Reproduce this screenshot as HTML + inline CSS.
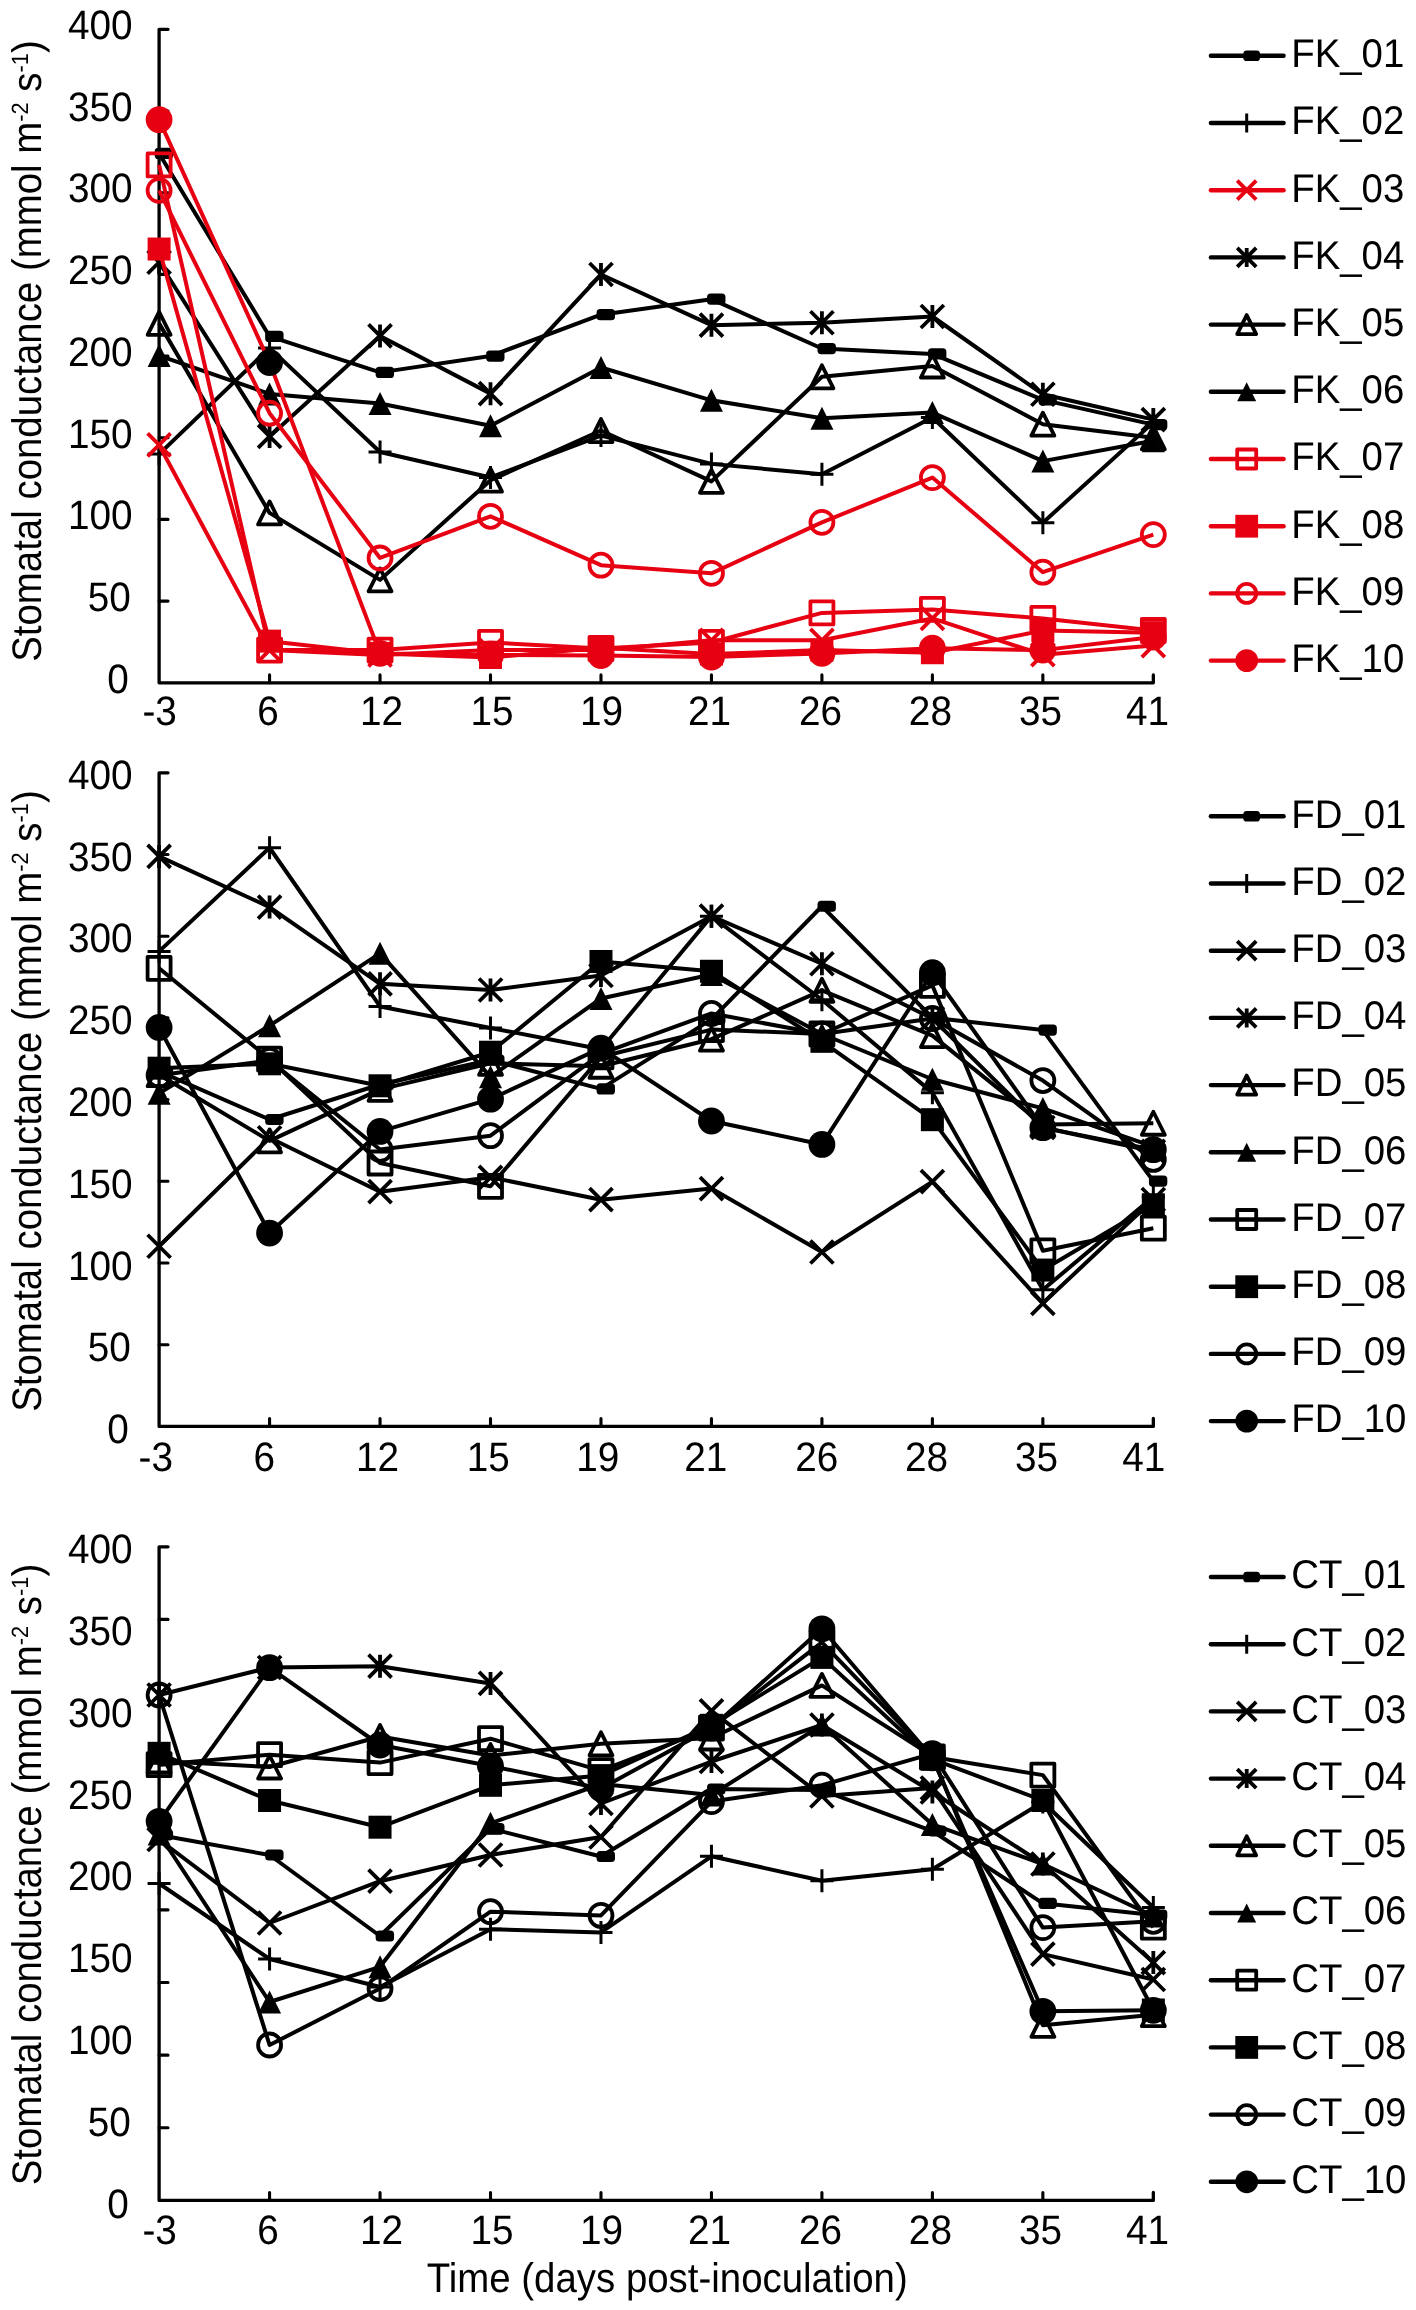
<!DOCTYPE html>
<html lang="en"><head><meta charset="utf-8"><title>Stomatal conductance</title>
<style>html,body{margin:0;padding:0;background:#fff}body{width:1416px;height:2310px;overflow:hidden;font-family:"Liberation Sans", sans-serif}svg{display:block;will-change:transform;filter:blur(0.55px)}</style></head>
<body>
<svg width="1416" height="2310" viewBox="0 0 1416 2310" font-family='"Liberation Sans", sans-serif' fill="#000" shape-rendering="geometricPrecision" text-rendering="geometricPrecision">
<rect width="1416" height="2310" fill="#fff"/>
<path d="M168 29.3H159.1V682.8H1153.33V674.9" stroke="#000" stroke-width="3.3" fill="none" stroke-linejoin="round" stroke-linecap="round"/>
<path d="M159.1 110.99H168M159.1 192.68H168M159.1 274.36H168M159.1 356.05H168M159.1 437.74H168M159.1 519.42H168M159.1 601.11H168M269.57 682.8V674.9M380.04 682.8V674.9M490.51 682.8V674.9M600.98 682.8V674.9M711.45 682.8V674.9M821.92 682.8V674.9M932.39 682.8V674.9M1042.86 682.8V674.9" stroke="#000" stroke-width="3.1" stroke-linecap="round" fill="none"/>
<text transform="translate(132.6 38.77) scale(0.94 1)" font-size="41.2" text-anchor="end">400</text>
<text transform="translate(132.6 120.55) scale(0.94 1)" font-size="41.2" text-anchor="end">350</text>
<text transform="translate(132.6 202.33) scale(0.94 1)" font-size="41.2" text-anchor="end">300</text>
<text transform="translate(132.6 284.11) scale(0.94 1)" font-size="41.2" text-anchor="end">250</text>
<text transform="translate(132.6 365.89) scale(0.94 1)" font-size="41.2" text-anchor="end">200</text>
<text transform="translate(132.6 447.67) scale(0.94 1)" font-size="41.2" text-anchor="end">150</text>
<text transform="translate(132.6 529.45) scale(0.94 1)" font-size="41.2" text-anchor="end">100</text>
<text transform="translate(130.8 611.23) scale(0.94 1)" font-size="41.2" text-anchor="end">50</text>
<text transform="translate(128.9 693.01) scale(0.94 1)" font-size="41.2" text-anchor="end">0</text>
<text transform="translate(159.6 725) scale(0.94 1)" font-size="41.2" text-anchor="middle">-3</text>
<text transform="translate(268.1 725) scale(0.94 1)" font-size="41.2" text-anchor="middle">6</text>
<text transform="translate(381.5 725) scale(0.94 1)" font-size="41.2" text-anchor="middle">12</text>
<text transform="translate(492.1 725) scale(0.94 1)" font-size="41.2" text-anchor="middle">15</text>
<text transform="translate(601.6 725) scale(0.94 1)" font-size="41.2" text-anchor="middle">19</text>
<text transform="translate(709.6 725) scale(0.94 1)" font-size="41.2" text-anchor="middle">21</text>
<text transform="translate(820.6 725) scale(0.94 1)" font-size="41.2" text-anchor="middle">26</text>
<text transform="translate(930.4 725) scale(0.94 1)" font-size="41.2" text-anchor="middle">28</text>
<text transform="translate(1040.5 725) scale(0.94 1)" font-size="41.2" text-anchor="middle">35</text>
<text transform="translate(1147.6 725) scale(0.94 1)" font-size="41.2" text-anchor="middle">41</text>
<text transform="translate(40.6 661.8) rotate(-90) scale(0.93 1)" font-size="41.3">Stomatal conductance (mmol m<tspan font-size="23.5" dy="-12.7">-2</tspan><tspan dy="12.7"> s</tspan><tspan font-size="23.5" dy="-12.7">-1</tspan><tspan dy="12.7">)</tspan></text>
<polyline points="159.1,153.46 269.57,336.44 380.04,372.39 490.51,356.05 600.98,314.72 711.45,299.2 821.92,348.53 932.39,353.93 1042.86,399.83 1153.33,424.67" stroke="#000000" stroke-width="4" stroke-linejoin="round" fill="none"/>
<rect x="154.7" y="147.86" width="18.4" height="11.2" rx="3.6" fill="#000000"/>
<rect x="265.17" y="330.84" width="18.4" height="11.2" rx="3.6" fill="#000000"/>
<rect x="375.64" y="366.79" width="18.4" height="11.2" rx="3.6" fill="#000000"/>
<rect x="486.11" y="350.45" width="18.4" height="11.2" rx="3.6" fill="#000000"/>
<rect x="596.58" y="309.12" width="18.4" height="11.2" rx="3.6" fill="#000000"/>
<rect x="707.05" y="293.6" width="18.4" height="11.2" rx="3.6" fill="#000000"/>
<rect x="817.52" y="342.93" width="18.4" height="11.2" rx="3.6" fill="#000000"/>
<rect x="927.99" y="348.33" width="18.4" height="11.2" rx="3.6" fill="#000000"/>
<rect x="1038.46" y="394.23" width="18.4" height="11.2" rx="3.6" fill="#000000"/>
<rect x="1148.93" y="419.07" width="18.4" height="11.2" rx="3.6" fill="#000000"/>
<polyline points="159.1,454.07 269.57,347.88 380.04,451.95 490.51,477.44 600.98,435.61 711.45,463.88 821.92,474.33 932.39,417.48 1042.86,522.69 1153.33,422.38" stroke="#000000" stroke-width="4" stroke-linejoin="round" fill="none"/>
<path d="M159.1 442.57V465.57M147.6 454.07H170.6" stroke="#000000" stroke-width="3" fill="none"/>
<path d="M269.57 336.38V359.38M258.07 347.88H281.07" stroke="#000000" stroke-width="3" fill="none"/>
<path d="M380.04 440.45V463.45M368.54 451.95H391.54" stroke="#000000" stroke-width="3" fill="none"/>
<path d="M490.51 465.94V488.94M479.01 477.44H502.01" stroke="#000000" stroke-width="3" fill="none"/>
<path d="M600.98 424.11V447.11M589.48 435.61H612.48" stroke="#000000" stroke-width="3" fill="none"/>
<path d="M711.45 452.38V475.38M699.95 463.88H722.95" stroke="#000000" stroke-width="3" fill="none"/>
<path d="M821.92 462.83V485.83M810.42 474.33H833.42" stroke="#000000" stroke-width="3" fill="none"/>
<path d="M932.39 405.98V428.98M920.89 417.48H943.89" stroke="#000000" stroke-width="3" fill="none"/>
<path d="M1042.86 511.19V534.19M1031.36 522.69H1054.36" stroke="#000000" stroke-width="3" fill="none"/>
<path d="M1153.33 410.88V433.88M1141.83 422.38H1164.83" stroke="#000000" stroke-width="3" fill="none"/>
<polyline points="159.1,444.93 269.57,650.12 380.04,655.03 490.51,650.12 600.98,650.12 711.45,640.32 821.92,640.32 932.39,618.43 1042.86,654.7 1153.33,645.55" stroke="#e60012" stroke-width="4" stroke-linejoin="round" fill="none"/>
<path d="M147.6 433.43L170.6 456.43M147.6 456.43L170.6 433.43" stroke="#e60012" stroke-width="3.8" fill="none"/>
<path d="M258.07 638.62L281.07 661.62M258.07 661.62L281.07 638.62" stroke="#e60012" stroke-width="3.8" fill="none"/>
<path d="M368.54 643.53L391.54 666.53M368.54 666.53L391.54 643.53" stroke="#e60012" stroke-width="3.8" fill="none"/>
<path d="M479.01 638.62L502.01 661.62M479.01 661.62L502.01 638.62" stroke="#e60012" stroke-width="3.8" fill="none"/>
<path d="M589.48 638.62L612.48 661.62M589.48 661.62L612.48 638.62" stroke="#e60012" stroke-width="3.8" fill="none"/>
<path d="M699.95 628.82L722.95 651.82M699.95 651.82L722.95 628.82" stroke="#e60012" stroke-width="3.8" fill="none"/>
<path d="M810.42 628.82L833.42 651.82M810.42 651.82L833.42 628.82" stroke="#e60012" stroke-width="3.8" fill="none"/>
<path d="M920.89 606.93L943.89 629.93M920.89 629.93L943.89 606.93" stroke="#e60012" stroke-width="3.8" fill="none"/>
<path d="M1031.36 643.2L1054.36 666.2M1031.36 666.2L1054.36 643.2" stroke="#e60012" stroke-width="3.8" fill="none"/>
<path d="M1141.83 634.05L1164.83 657.05M1141.83 657.05L1164.83 634.05" stroke="#e60012" stroke-width="3.8" fill="none"/>
<polyline points="159.1,262.27 269.57,436.43 380.04,335.95 490.51,393.63 600.98,274.53 711.45,325.17 821.92,322.72 932.39,316.51 1042.86,394.28 1153.33,419.6" stroke="#000000" stroke-width="4" stroke-linejoin="round" fill="none"/>
<path d="M147.6 250.77L170.6 273.77M147.6 273.77L170.6 250.77M159.1 250.77V273.77" stroke="#000000" stroke-width="3.8" fill="none"/>
<path d="M258.07 424.93L281.07 447.93M258.07 447.93L281.07 424.93M269.57 424.93V447.93" stroke="#000000" stroke-width="3.8" fill="none"/>
<path d="M368.54 324.45L391.54 347.45M368.54 347.45L391.54 324.45M380.04 324.45V347.45" stroke="#000000" stroke-width="3.8" fill="none"/>
<path d="M479.01 382.13L502.01 405.13M479.01 405.13L502.01 382.13M490.51 382.13V405.13" stroke="#000000" stroke-width="3.8" fill="none"/>
<path d="M589.48 263.03L612.48 286.03M589.48 286.03L612.48 263.03M600.98 263.03V286.03" stroke="#000000" stroke-width="3.8" fill="none"/>
<path d="M699.95 313.67L722.95 336.67M699.95 336.67L722.95 313.67M711.45 313.67V336.67" stroke="#000000" stroke-width="3.8" fill="none"/>
<path d="M810.42 311.22L833.42 334.22M810.42 334.22L833.42 311.22M821.92 311.22V334.22" stroke="#000000" stroke-width="3.8" fill="none"/>
<path d="M920.89 305.01L943.89 328.01M920.89 328.01L943.89 305.01M932.39 305.01V328.01" stroke="#000000" stroke-width="3.8" fill="none"/>
<path d="M1031.36 382.78L1054.36 405.78M1031.36 405.78L1054.36 382.78M1042.86 382.78V405.78" stroke="#000000" stroke-width="3.8" fill="none"/>
<path d="M1141.83 408.1L1164.83 431.1M1141.83 431.1L1164.83 408.1M1153.33 408.1V431.1" stroke="#000000" stroke-width="3.8" fill="none"/>
<polyline points="159.1,323.37 269.57,512.89 380.04,579.87 490.51,480.21 600.98,430.55 711.45,481.36 821.92,376.8 932.39,366.02 1042.86,424.18 1153.33,437.74" stroke="#000000" stroke-width="4" stroke-linejoin="round" fill="none"/>
<path d="M159.1 311.87L170.6 334.87H147.6Z" stroke="#000000" stroke-width="3.8" stroke-linejoin="round" fill="none"/>
<path d="M269.57 501.39L281.07 524.39H258.07Z" stroke="#000000" stroke-width="3.8" stroke-linejoin="round" fill="none"/>
<path d="M380.04 568.37L391.54 591.37H368.54Z" stroke="#000000" stroke-width="3.8" stroke-linejoin="round" fill="none"/>
<path d="M490.51 468.71L502.01 491.71H479.01Z" stroke="#000000" stroke-width="3.8" stroke-linejoin="round" fill="none"/>
<path d="M600.98 419.05L612.48 442.05H589.48Z" stroke="#000000" stroke-width="3.8" stroke-linejoin="round" fill="none"/>
<path d="M711.45 469.86L722.95 492.86H699.95Z" stroke="#000000" stroke-width="3.8" stroke-linejoin="round" fill="none"/>
<path d="M821.92 365.3L833.42 388.3H810.42Z" stroke="#000000" stroke-width="3.8" stroke-linejoin="round" fill="none"/>
<path d="M932.39 354.52L943.89 377.52H920.89Z" stroke="#000000" stroke-width="3.8" stroke-linejoin="round" fill="none"/>
<path d="M1042.86 412.68L1054.36 435.68H1031.36Z" stroke="#000000" stroke-width="3.8" stroke-linejoin="round" fill="none"/>
<path d="M1153.33 426.24L1164.83 449.24H1141.83Z" stroke="#000000" stroke-width="3.8" stroke-linejoin="round" fill="none"/>
<polyline points="159.1,355.56 269.57,393.95 380.04,403.43 490.51,425.81 600.98,367.49 711.45,400.32 821.92,418.3 932.39,412.58 1042.86,461.1 1153.33,440.84" stroke="#000000" stroke-width="4" stroke-linejoin="round" fill="none"/>
<path d="M159.1 344.06L170.6 367.06H147.6Z" fill="#000000"/>
<path d="M269.57 382.45L281.07 405.45H258.07Z" fill="#000000"/>
<path d="M380.04 391.93L391.54 414.93H368.54Z" fill="#000000"/>
<path d="M490.51 414.31L502.01 437.31H479.01Z" fill="#000000"/>
<path d="M600.98 355.99L612.48 378.99H589.48Z" fill="#000000"/>
<path d="M711.45 388.82L722.95 411.82H699.95Z" fill="#000000"/>
<path d="M821.92 406.8L833.42 429.8H810.42Z" fill="#000000"/>
<path d="M932.39 401.08L943.89 424.08H920.89Z" fill="#000000"/>
<path d="M1042.86 449.6L1054.36 472.6H1031.36Z" fill="#000000"/>
<path d="M1153.33 429.34L1164.83 452.34H1141.83Z" fill="#000000"/>
<polyline points="159.1,164.9 269.57,650.12 380.04,650.12 490.51,642.45 600.98,648.49 711.45,642.45 821.92,612.88 932.39,609.44 1042.86,618.43 1153.33,630.52" stroke="#e60012" stroke-width="4" stroke-linejoin="round" fill="none"/>
<rect x="147.6" y="153.4" width="23" height="23" stroke="#e60012" stroke-width="3.8" stroke-linejoin="round" fill="none"/>
<rect x="258.07" y="638.62" width="23" height="23" stroke="#e60012" stroke-width="3.8" stroke-linejoin="round" fill="none"/>
<rect x="368.54" y="638.62" width="23" height="23" stroke="#e60012" stroke-width="3.8" stroke-linejoin="round" fill="none"/>
<rect x="479.01" y="630.95" width="23" height="23" stroke="#e60012" stroke-width="3.8" stroke-linejoin="round" fill="none"/>
<rect x="589.48" y="636.99" width="23" height="23" stroke="#e60012" stroke-width="3.8" stroke-linejoin="round" fill="none"/>
<rect x="699.95" y="630.95" width="23" height="23" stroke="#e60012" stroke-width="3.8" stroke-linejoin="round" fill="none"/>
<rect x="810.42" y="601.38" width="23" height="23" stroke="#e60012" stroke-width="3.8" stroke-linejoin="round" fill="none"/>
<rect x="920.89" y="597.94" width="23" height="23" stroke="#e60012" stroke-width="3.8" stroke-linejoin="round" fill="none"/>
<rect x="1031.36" y="606.93" width="23" height="23" stroke="#e60012" stroke-width="3.8" stroke-linejoin="round" fill="none"/>
<rect x="1141.83" y="619.02" width="23" height="23" stroke="#e60012" stroke-width="3.8" stroke-linejoin="round" fill="none"/>
<polyline points="159.1,249.04 269.57,641.14 380.04,653.39 490.51,657.48 600.98,647.67 711.45,654.05 821.92,650.12 932.39,652.74 1042.86,630.52 1153.33,632.64" stroke="#e60012" stroke-width="4" stroke-linejoin="round" fill="none"/>
<rect x="147.6" y="237.54" width="23" height="23" fill="#e60012"/>
<rect x="258.07" y="629.64" width="23" height="23" fill="#e60012"/>
<rect x="368.54" y="641.89" width="23" height="23" fill="#e60012"/>
<rect x="479.01" y="645.98" width="23" height="23" fill="#e60012"/>
<rect x="589.48" y="636.17" width="23" height="23" fill="#e60012"/>
<rect x="699.95" y="642.55" width="23" height="23" fill="#e60012"/>
<rect x="810.42" y="638.62" width="23" height="23" fill="#e60012"/>
<rect x="920.89" y="641.24" width="23" height="23" fill="#e60012"/>
<rect x="1031.36" y="619.02" width="23" height="23" fill="#e60012"/>
<rect x="1141.83" y="621.14" width="23" height="23" fill="#e60012"/>
<polyline points="159.1,190.39 269.57,413.23 380.04,557.98 490.51,516.32 600.98,565.17 711.45,573.34 821.92,522.37 932.39,477.6 1042.86,572.2 1153.33,534.62" stroke="#e60012" stroke-width="4" stroke-linejoin="round" fill="none"/>
<circle cx="159.1" cy="190.39" r="11.5" stroke="#e60012" stroke-width="3.8" fill="none"/>
<circle cx="269.57" cy="413.23" r="11.5" stroke="#e60012" stroke-width="3.8" fill="none"/>
<circle cx="380.04" cy="557.98" r="11.5" stroke="#e60012" stroke-width="3.8" fill="none"/>
<circle cx="490.51" cy="516.32" r="11.5" stroke="#e60012" stroke-width="3.8" fill="none"/>
<circle cx="600.98" cy="565.17" r="11.5" stroke="#e60012" stroke-width="3.8" fill="none"/>
<circle cx="711.45" cy="573.34" r="11.5" stroke="#e60012" stroke-width="3.8" fill="none"/>
<circle cx="821.92" cy="522.37" r="11.5" stroke="#e60012" stroke-width="3.8" fill="none"/>
<circle cx="932.39" cy="477.6" r="11.5" stroke="#e60012" stroke-width="3.8" fill="none"/>
<circle cx="1042.86" cy="572.2" r="11.5" stroke="#e60012" stroke-width="3.8" fill="none"/>
<circle cx="1153.33" cy="534.62" r="11.5" stroke="#e60012" stroke-width="3.8" fill="none"/>
<polyline points="159.1,119.65 269.57,362.58 380.04,653.39 490.51,655.03 600.98,655.52 711.45,656.99 821.92,653.39 932.39,648.16 1042.86,650.12 1153.33,637.05" stroke="#e60012" stroke-width="4" stroke-linejoin="round" fill="none"/>
<circle cx="159.1" cy="119.65" r="13.4" fill="#e60012"/>
<circle cx="269.57" cy="362.58" r="13.4" fill="#000000"/>
<circle cx="380.04" cy="653.39" r="13.4" fill="#e60012"/>
<circle cx="490.51" cy="655.03" r="13.4" fill="#e60012"/>
<circle cx="600.98" cy="655.52" r="13.4" fill="#e60012"/>
<circle cx="711.45" cy="656.99" r="13.4" fill="#e60012"/>
<circle cx="821.92" cy="653.39" r="13.4" fill="#e60012"/>
<circle cx="932.39" cy="648.16" r="13.4" fill="#e60012"/>
<circle cx="1042.86" cy="650.12" r="13.4" fill="#e60012"/>
<circle cx="1153.33" cy="637.05" r="13.4" fill="#e60012"/>
<path d="M1210.9 55.8H1283.6" stroke="#000000" stroke-width="4.4" stroke-linecap="round" fill="none"/>
<rect x="1243.3" y="50.5" width="16.7" height="10.6" rx="3.4" fill="#000000"/>
<text transform="translate(1291.2 67.1) scale(0.96 1)" font-size="40" text-anchor="start">FK_01</text>
<path d="M1210.9 123H1283.6" stroke="#000000" stroke-width="4.4" stroke-linecap="round" fill="none"/>
<path d="M1246.7 113.5V132.5M1237.2 123H1256.2" stroke="#000000" stroke-width="3" fill="none"/>
<text transform="translate(1291.2 134.3) scale(0.96 1)" font-size="40" text-anchor="start">FK_02</text>
<path d="M1210.9 190.2H1283.6" stroke="#e60012" stroke-width="4.4" stroke-linecap="round" fill="none"/>
<path d="M1237.2 180.7L1256.2 199.7M1237.2 199.7L1256.2 180.7" stroke="#e60012" stroke-width="3.8" fill="none"/>
<text transform="translate(1291.2 201.5) scale(0.96 1)" font-size="40" text-anchor="start">FK_03</text>
<path d="M1210.9 257.4H1283.6" stroke="#000000" stroke-width="4.4" stroke-linecap="round" fill="none"/>
<path d="M1237.2 247.9L1256.2 266.9M1237.2 266.9L1256.2 247.9M1246.7 247.9V266.9" stroke="#000000" stroke-width="3.8" fill="none"/>
<text transform="translate(1291.2 268.7) scale(0.96 1)" font-size="40" text-anchor="start">FK_04</text>
<path d="M1210.9 324.6H1283.6" stroke="#000000" stroke-width="4.4" stroke-linecap="round" fill="none"/>
<path d="M1246.7 315.1L1256.2 334.1H1237.2Z" stroke="#000000" stroke-width="3.8" stroke-linejoin="round" fill="none"/>
<text transform="translate(1291.2 335.9) scale(0.96 1)" font-size="40" text-anchor="start">FK_05</text>
<path d="M1210.9 391.8H1283.6" stroke="#000000" stroke-width="4.4" stroke-linecap="round" fill="none"/>
<path d="M1246.7 382.3L1256.2 401.3H1237.2Z" fill="#000000"/>
<text transform="translate(1291.2 403.1) scale(0.96 1)" font-size="40" text-anchor="start">FK_06</text>
<path d="M1210.9 459H1283.6" stroke="#e60012" stroke-width="4.4" stroke-linecap="round" fill="none"/>
<rect x="1237.2" y="449.5" width="19" height="19" stroke="#e60012" stroke-width="3.8" stroke-linejoin="round" fill="none"/>
<text transform="translate(1291.2 470.3) scale(0.96 1)" font-size="40" text-anchor="start">FK_07</text>
<path d="M1210.9 526.2H1283.6" stroke="#e60012" stroke-width="4.4" stroke-linecap="round" fill="none"/>
<rect x="1235.3" y="514.8" width="22.8" height="22.8" fill="#e60012"/>
<text transform="translate(1291.2 537.5) scale(0.96 1)" font-size="40" text-anchor="start">FK_08</text>
<path d="M1210.9 593.4H1283.6" stroke="#e60012" stroke-width="4.4" stroke-linecap="round" fill="none"/>
<circle cx="1246.7" cy="593.4" r="9.5" stroke="#e60012" stroke-width="3.8" fill="none"/>
<text transform="translate(1291.2 604.7) scale(0.96 1)" font-size="40" text-anchor="start">FK_09</text>
<path d="M1210.9 660.6H1283.6" stroke="#e60012" stroke-width="4.4" stroke-linecap="round" fill="none"/>
<circle cx="1246.7" cy="660.6" r="11.4" fill="#e60012"/>
<text transform="translate(1291.2 671.9) scale(0.96 1)" font-size="40" text-anchor="start">FK_10</text>
<path d="M168 772.8H159.1V1426.4H1153.33V1418.5" stroke="#000" stroke-width="3.3" fill="none" stroke-linejoin="round" stroke-linecap="round"/>
<path d="M159.1 854.5H168M159.1 936.2H168M159.1 1017.9H168M159.1 1099.6H168M159.1 1181.3H168M159.1 1263H168M159.1 1344.7H168M269.57 1426.4V1418.5M380.04 1426.4V1418.5M490.51 1426.4V1418.5M600.98 1426.4V1418.5M711.45 1426.4V1418.5M821.92 1426.4V1418.5M932.39 1426.4V1418.5M1042.86 1426.4V1418.5" stroke="#000" stroke-width="3.1" stroke-linecap="round" fill="none"/>
<text transform="translate(132.6 788.92) scale(0.94 1)" font-size="41.2" text-anchor="end">400</text>
<text transform="translate(132.6 870.7) scale(0.94 1)" font-size="41.2" text-anchor="end">350</text>
<text transform="translate(132.6 952.48) scale(0.94 1)" font-size="41.2" text-anchor="end">300</text>
<text transform="translate(132.6 1034.26) scale(0.94 1)" font-size="41.2" text-anchor="end">250</text>
<text transform="translate(132.6 1116.04) scale(0.94 1)" font-size="41.2" text-anchor="end">200</text>
<text transform="translate(132.6 1197.82) scale(0.94 1)" font-size="41.2" text-anchor="end">150</text>
<text transform="translate(132.6 1279.6) scale(0.94 1)" font-size="41.2" text-anchor="end">100</text>
<text transform="translate(130.8 1361.38) scale(0.94 1)" font-size="41.2" text-anchor="end">50</text>
<text transform="translate(128.9 1443.16) scale(0.94 1)" font-size="41.2" text-anchor="end">0</text>
<text transform="translate(155.7 1471.4) scale(0.94 1)" font-size="41.2" text-anchor="middle">-3</text>
<text transform="translate(264.2 1471.4) scale(0.94 1)" font-size="41.2" text-anchor="middle">6</text>
<text transform="translate(377.6 1471.4) scale(0.94 1)" font-size="41.2" text-anchor="middle">12</text>
<text transform="translate(488.2 1471.4) scale(0.94 1)" font-size="41.2" text-anchor="middle">15</text>
<text transform="translate(597.7 1471.4) scale(0.94 1)" font-size="41.2" text-anchor="middle">19</text>
<text transform="translate(705.7 1471.4) scale(0.94 1)" font-size="41.2" text-anchor="middle">21</text>
<text transform="translate(816.7 1471.4) scale(0.94 1)" font-size="41.2" text-anchor="middle">26</text>
<text transform="translate(926.5 1471.4) scale(0.94 1)" font-size="41.2" text-anchor="middle">28</text>
<text transform="translate(1036.6 1471.4) scale(0.94 1)" font-size="41.2" text-anchor="middle">35</text>
<text transform="translate(1143.7 1471.4) scale(0.94 1)" font-size="41.2" text-anchor="middle">41</text>
<text transform="translate(40.6 1411.8) rotate(-90) scale(0.93 1)" font-size="41.3">Stomatal conductance (mmol m<tspan font-size="23.5" dy="-12.7">-2</tspan><tspan dy="12.7"> s</tspan><tspan font-size="23.5" dy="-12.7">-1</tspan><tspan dy="12.7">)</tspan></text>
<polyline points="159.1,1071.45 269.57,1119.52 380.04,1084.49 490.51,1060.05 600.98,1088.89 711.45,1019.32 821.92,906.25 932.39,1017.69 1042.86,1030.07 1153.33,1181.1" stroke="#000000" stroke-width="4" stroke-linejoin="round" fill="none"/>
<rect x="154.7" y="1065.85" width="18.4" height="11.2" rx="3.6" fill="#000000"/>
<rect x="265.17" y="1113.92" width="18.4" height="11.2" rx="3.6" fill="#000000"/>
<rect x="375.64" y="1078.89" width="18.4" height="11.2" rx="3.6" fill="#000000"/>
<rect x="486.11" y="1054.45" width="18.4" height="11.2" rx="3.6" fill="#000000"/>
<rect x="596.58" y="1083.29" width="18.4" height="11.2" rx="3.6" fill="#000000"/>
<rect x="707.05" y="1013.72" width="18.4" height="11.2" rx="3.6" fill="#000000"/>
<rect x="817.52" y="900.65" width="18.4" height="11.2" rx="3.6" fill="#000000"/>
<rect x="927.99" y="1012.09" width="18.4" height="11.2" rx="3.6" fill="#000000"/>
<rect x="1038.46" y="1024.47" width="18.4" height="11.2" rx="3.6" fill="#000000"/>
<rect x="1148.93" y="1175.5" width="18.4" height="11.2" rx="3.6" fill="#000000"/>
<polyline points="159.1,951.38 269.57,847.76 380.04,1006.45 490.51,1027.95 600.98,1049.29 711.45,916.19 821.92,999.77 932.39,1092.63 1042.86,1289.77 1153.33,1196.9" stroke="#000000" stroke-width="4" stroke-linejoin="round" fill="none"/>
<path d="M159.1 939.88V962.88M147.6 951.38H170.6" stroke="#000000" stroke-width="3" fill="none"/>
<path d="M269.57 836.26V859.26M258.07 847.76H281.07" stroke="#000000" stroke-width="3" fill="none"/>
<path d="M380.04 994.95V1017.95M368.54 1006.45H391.54" stroke="#000000" stroke-width="3" fill="none"/>
<path d="M490.51 1016.45V1039.45M479.01 1027.95H502.01" stroke="#000000" stroke-width="3" fill="none"/>
<path d="M600.98 1037.79V1060.79M589.48 1049.29H612.48" stroke="#000000" stroke-width="3" fill="none"/>
<path d="M711.45 904.69V927.69M699.95 916.19H722.95" stroke="#000000" stroke-width="3" fill="none"/>
<path d="M821.92 988.27V1011.27M810.42 999.77H833.42" stroke="#000000" stroke-width="3" fill="none"/>
<path d="M932.39 1081.13V1104.13M920.89 1092.63H943.89" stroke="#000000" stroke-width="3" fill="none"/>
<path d="M1042.86 1278.27V1301.27M1031.36 1289.77H1054.36" stroke="#000000" stroke-width="3" fill="none"/>
<path d="M1153.33 1185.4V1208.4M1141.83 1196.9H1164.83" stroke="#000000" stroke-width="3" fill="none"/>
<polyline points="159.1,1246.27 269.57,1137.76 380.04,1191.69 490.51,1177.35 600.98,1199.67 711.45,1188.6 821.92,1251.97 932.39,1181.59 1042.86,1303.3 1153.33,1199.51" stroke="#000000" stroke-width="4" stroke-linejoin="round" fill="none"/>
<path d="M147.6 1234.77L170.6 1257.77M147.6 1257.77L170.6 1234.77" stroke="#000000" stroke-width="3.8" fill="none"/>
<path d="M258.07 1126.26L281.07 1149.26M258.07 1149.26L281.07 1126.26" stroke="#000000" stroke-width="3.8" fill="none"/>
<path d="M368.54 1180.19L391.54 1203.19M368.54 1203.19L391.54 1180.19" stroke="#000000" stroke-width="3.8" fill="none"/>
<path d="M479.01 1165.85L502.01 1188.85M479.01 1188.85L502.01 1165.85" stroke="#000000" stroke-width="3.8" fill="none"/>
<path d="M589.48 1188.17L612.48 1211.17M589.48 1211.17L612.48 1188.17" stroke="#000000" stroke-width="3.8" fill="none"/>
<path d="M699.95 1177.1L722.95 1200.1M699.95 1200.1L722.95 1177.1" stroke="#000000" stroke-width="3.8" fill="none"/>
<path d="M810.42 1240.47L833.42 1263.47M810.42 1263.47L833.42 1240.47" stroke="#000000" stroke-width="3.8" fill="none"/>
<path d="M920.89 1170.09L943.89 1193.09M920.89 1193.09L943.89 1170.09" stroke="#000000" stroke-width="3.8" fill="none"/>
<path d="M1031.36 1291.8L1054.36 1314.8M1031.36 1314.8L1054.36 1291.8" stroke="#000000" stroke-width="3.8" fill="none"/>
<path d="M1141.83 1188.01L1164.83 1211.01M1141.83 1211.01L1164.83 1188.01" stroke="#000000" stroke-width="3.8" fill="none"/>
<polyline points="159.1,856.39 269.57,907.06 380.04,983.8 490.51,989.99 600.98,975.49 711.45,916.19 821.92,963.76 932.39,1018.5 1042.86,1127.5 1153.33,1151.29" stroke="#000000" stroke-width="4" stroke-linejoin="round" fill="none"/>
<path d="M147.6 844.89L170.6 867.89M147.6 867.89L170.6 844.89M159.1 844.89V867.89" stroke="#000000" stroke-width="3.8" fill="none"/>
<path d="M258.07 895.56L281.07 918.56M258.07 918.56L281.07 895.56M269.57 895.56V918.56" stroke="#000000" stroke-width="3.8" fill="none"/>
<path d="M368.54 972.3L391.54 995.3M368.54 995.3L391.54 972.3M380.04 972.3V995.3" stroke="#000000" stroke-width="3.8" fill="none"/>
<path d="M479.01 978.49L502.01 1001.49M479.01 1001.49L502.01 978.49M490.51 978.49V1001.49" stroke="#000000" stroke-width="3.8" fill="none"/>
<path d="M589.48 963.99L612.48 986.99M589.48 986.99L612.48 963.99M600.98 963.99V986.99" stroke="#000000" stroke-width="3.8" fill="none"/>
<path d="M699.95 904.69L722.95 927.69M699.95 927.69L722.95 904.69M711.45 904.69V927.69" stroke="#000000" stroke-width="3.8" fill="none"/>
<path d="M810.42 952.26L833.42 975.26M810.42 975.26L833.42 952.26M821.92 952.26V975.26" stroke="#000000" stroke-width="3.8" fill="none"/>
<path d="M920.89 1007L943.89 1030M920.89 1030L943.89 1007M932.39 1007V1030" stroke="#000000" stroke-width="3.8" fill="none"/>
<path d="M1031.36 1116L1054.36 1139M1031.36 1139L1054.36 1116M1042.86 1116V1139" stroke="#000000" stroke-width="3.8" fill="none"/>
<path d="M1141.83 1139.79L1164.83 1162.79M1141.83 1162.79L1164.83 1139.79M1153.33 1139.79V1162.79" stroke="#000000" stroke-width="3.8" fill="none"/>
<polyline points="159.1,1074.71 269.57,1140.86 380.04,1089.37 490.51,1063.31 600.98,1066.24 711.45,1039.19 821.92,990.32 932.39,1035.61 1042.86,1124.4 1153.33,1123.26" stroke="#000000" stroke-width="4" stroke-linejoin="round" fill="none"/>
<path d="M159.1 1063.21L170.6 1086.21H147.6Z" stroke="#000000" stroke-width="3.8" stroke-linejoin="round" fill="none"/>
<path d="M269.57 1129.36L281.07 1152.36H258.07Z" stroke="#000000" stroke-width="3.8" stroke-linejoin="round" fill="none"/>
<path d="M380.04 1077.87L391.54 1100.87H368.54Z" stroke="#000000" stroke-width="3.8" stroke-linejoin="round" fill="none"/>
<path d="M490.51 1051.81L502.01 1074.81H479.01Z" stroke="#000000" stroke-width="3.8" stroke-linejoin="round" fill="none"/>
<path d="M600.98 1054.74L612.48 1077.74H589.48Z" stroke="#000000" stroke-width="3.8" stroke-linejoin="round" fill="none"/>
<path d="M711.45 1027.69L722.95 1050.69H699.95Z" stroke="#000000" stroke-width="3.8" stroke-linejoin="round" fill="none"/>
<path d="M821.92 978.82L833.42 1001.82H810.42Z" stroke="#000000" stroke-width="3.8" stroke-linejoin="round" fill="none"/>
<path d="M932.39 1024.11L943.89 1047.11H920.89Z" stroke="#000000" stroke-width="3.8" stroke-linejoin="round" fill="none"/>
<path d="M1042.86 1112.9L1054.36 1135.9H1031.36Z" stroke="#000000" stroke-width="3.8" stroke-linejoin="round" fill="none"/>
<path d="M1153.33 1111.76L1164.83 1134.76H1141.83Z" stroke="#000000" stroke-width="3.8" stroke-linejoin="round" fill="none"/>
<polyline points="159.1,1093.28 269.57,1025.67 380.04,953.33 490.51,1076.83 600.98,998.46 711.45,974.51 821.92,1033.98 932.39,1079.27 1042.86,1108.44 1153.33,1146.56" stroke="#000000" stroke-width="4" stroke-linejoin="round" fill="none"/>
<path d="M159.1 1081.78L170.6 1104.78H147.6Z" fill="#000000"/>
<path d="M269.57 1014.17L281.07 1037.17H258.07Z" fill="#000000"/>
<path d="M380.04 941.83L391.54 964.83H368.54Z" fill="#000000"/>
<path d="M490.51 1065.33L502.01 1088.33H479.01Z" fill="#000000"/>
<path d="M600.98 986.96L612.48 1009.96H589.48Z" fill="#000000"/>
<path d="M711.45 963.01L722.95 986.01H699.95Z" fill="#000000"/>
<path d="M821.92 1022.48L833.42 1045.48H810.42Z" fill="#000000"/>
<path d="M932.39 1067.77L943.89 1090.77H920.89Z" fill="#000000"/>
<path d="M1042.86 1096.94L1054.36 1119.94H1031.36Z" fill="#000000"/>
<path d="M1153.33 1135.06L1164.83 1158.06H1141.83Z" fill="#000000"/>
<polyline points="159.1,968.32 269.57,1059.07 380.04,1163.02 490.51,1186.31 600.98,1056.79 711.45,1029.58 821.92,1033.98 932.39,985.43 1042.86,1250.83 1153.33,1228.19" stroke="#000000" stroke-width="4" stroke-linejoin="round" fill="none"/>
<rect x="147.6" y="956.82" width="23" height="23" stroke="#000000" stroke-width="3.8" stroke-linejoin="round" fill="none"/>
<rect x="258.07" y="1047.57" width="23" height="23" stroke="#000000" stroke-width="3.8" stroke-linejoin="round" fill="none"/>
<rect x="368.54" y="1151.52" width="23" height="23" stroke="#000000" stroke-width="3.8" stroke-linejoin="round" fill="none"/>
<rect x="479.01" y="1174.81" width="23" height="23" stroke="#000000" stroke-width="3.8" stroke-linejoin="round" fill="none"/>
<rect x="589.48" y="1045.29" width="23" height="23" stroke="#000000" stroke-width="3.8" stroke-linejoin="round" fill="none"/>
<rect x="699.95" y="1018.08" width="23" height="23" stroke="#000000" stroke-width="3.8" stroke-linejoin="round" fill="none"/>
<rect x="810.42" y="1022.48" width="23" height="23" stroke="#000000" stroke-width="3.8" stroke-linejoin="round" fill="none"/>
<rect x="920.89" y="973.93" width="23" height="23" stroke="#000000" stroke-width="3.8" stroke-linejoin="round" fill="none"/>
<rect x="1031.36" y="1239.33" width="23" height="23" stroke="#000000" stroke-width="3.8" stroke-linejoin="round" fill="none"/>
<rect x="1141.83" y="1216.69" width="23" height="23" stroke="#000000" stroke-width="3.8" stroke-linejoin="round" fill="none"/>
<polyline points="159.1,1068.19 269.57,1063.8 380.04,1085.79 490.51,1052.23 600.98,961.48 711.45,971.25 821.92,1041.31 932.39,1119.68 1042.86,1270.06 1153.33,1204.73" stroke="#000000" stroke-width="4" stroke-linejoin="round" fill="none"/>
<rect x="147.6" y="1056.69" width="23" height="23" fill="#000000"/>
<rect x="258.07" y="1052.3" width="23" height="23" fill="#000000"/>
<rect x="368.54" y="1074.29" width="23" height="23" fill="#000000"/>
<rect x="479.01" y="1040.73" width="23" height="23" fill="#000000"/>
<rect x="589.48" y="949.98" width="23" height="23" fill="#000000"/>
<rect x="699.95" y="959.75" width="23" height="23" fill="#000000"/>
<rect x="810.42" y="1029.81" width="23" height="23" fill="#000000"/>
<rect x="920.89" y="1108.18" width="23" height="23" fill="#000000"/>
<rect x="1031.36" y="1258.56" width="23" height="23" fill="#000000"/>
<rect x="1141.83" y="1193.23" width="23" height="23" fill="#000000"/>
<polyline points="159.1,1075.2 269.57,1060.37 380.04,1149.49 490.51,1135.65 600.98,1053.53 711.45,1013.45 821.92,1033.98 932.39,1018.5 1042.86,1080.58 1153.33,1159.43" stroke="#000000" stroke-width="4" stroke-linejoin="round" fill="none"/>
<circle cx="159.1" cy="1075.2" r="11.5" stroke="#000000" stroke-width="3.8" fill="none"/>
<circle cx="269.57" cy="1060.37" r="11.5" stroke="#000000" stroke-width="3.8" fill="none"/>
<circle cx="380.04" cy="1149.49" r="11.5" stroke="#000000" stroke-width="3.8" fill="none"/>
<circle cx="490.51" cy="1135.65" r="11.5" stroke="#000000" stroke-width="3.8" fill="none"/>
<circle cx="600.98" cy="1053.53" r="11.5" stroke="#000000" stroke-width="3.8" fill="none"/>
<circle cx="711.45" cy="1013.45" r="11.5" stroke="#000000" stroke-width="3.8" fill="none"/>
<circle cx="821.92" cy="1033.98" r="11.5" stroke="#000000" stroke-width="3.8" fill="none"/>
<circle cx="932.39" cy="1018.5" r="11.5" stroke="#000000" stroke-width="3.8" fill="none"/>
<circle cx="1042.86" cy="1080.58" r="11.5" stroke="#000000" stroke-width="3.8" fill="none"/>
<circle cx="1153.33" cy="1159.43" r="11.5" stroke="#000000" stroke-width="3.8" fill="none"/>
<polyline points="159.1,1027.46 269.57,1233.07 380.04,1131.41 490.51,1099.15 600.98,1048.15 711.45,1120.98 821.92,1144.44 932.39,972.72 1042.86,1127.66 1153.33,1149.66" stroke="#000000" stroke-width="4" stroke-linejoin="round" fill="none"/>
<circle cx="159.1" cy="1027.46" r="13.4" fill="#000000"/>
<circle cx="269.57" cy="1233.07" r="13.4" fill="#000000"/>
<circle cx="380.04" cy="1131.41" r="13.4" fill="#000000"/>
<circle cx="490.51" cy="1099.15" r="13.4" fill="#000000"/>
<circle cx="600.98" cy="1048.15" r="13.4" fill="#000000"/>
<circle cx="711.45" cy="1120.98" r="13.4" fill="#000000"/>
<circle cx="821.92" cy="1144.44" r="13.4" fill="#000000"/>
<circle cx="932.39" cy="972.72" r="13.4" fill="#000000"/>
<circle cx="1042.86" cy="1127.66" r="13.4" fill="#000000"/>
<circle cx="1153.33" cy="1149.66" r="13.4" fill="#000000"/>
<path d="M1210.9 816.3H1283.6" stroke="#000000" stroke-width="4.4" stroke-linecap="round" fill="none"/>
<rect x="1243.3" y="811" width="16.7" height="10.6" rx="3.4" fill="#000000"/>
<text transform="translate(1291.2 827.6) scale(0.96 1)" font-size="40" text-anchor="start">FD_01</text>
<path d="M1210.9 883.5H1283.6" stroke="#000000" stroke-width="4.4" stroke-linecap="round" fill="none"/>
<path d="M1246.7 874V893M1237.2 883.5H1256.2" stroke="#000000" stroke-width="3" fill="none"/>
<text transform="translate(1291.2 894.8) scale(0.96 1)" font-size="40" text-anchor="start">FD_02</text>
<path d="M1210.9 950.7H1283.6" stroke="#000000" stroke-width="4.4" stroke-linecap="round" fill="none"/>
<path d="M1237.2 941.2L1256.2 960.2M1237.2 960.2L1256.2 941.2" stroke="#000000" stroke-width="3.8" fill="none"/>
<text transform="translate(1291.2 962) scale(0.96 1)" font-size="40" text-anchor="start">FD_03</text>
<path d="M1210.9 1017.9H1283.6" stroke="#000000" stroke-width="4.4" stroke-linecap="round" fill="none"/>
<path d="M1237.2 1008.4L1256.2 1027.4M1237.2 1027.4L1256.2 1008.4M1246.7 1008.4V1027.4" stroke="#000000" stroke-width="3.8" fill="none"/>
<text transform="translate(1291.2 1029.2) scale(0.96 1)" font-size="40" text-anchor="start">FD_04</text>
<path d="M1210.9 1085.1H1283.6" stroke="#000000" stroke-width="4.4" stroke-linecap="round" fill="none"/>
<path d="M1246.7 1075.6L1256.2 1094.6H1237.2Z" stroke="#000000" stroke-width="3.8" stroke-linejoin="round" fill="none"/>
<text transform="translate(1291.2 1096.4) scale(0.96 1)" font-size="40" text-anchor="start">FD_05</text>
<path d="M1210.9 1152.3H1283.6" stroke="#000000" stroke-width="4.4" stroke-linecap="round" fill="none"/>
<path d="M1246.7 1142.8L1256.2 1161.8H1237.2Z" fill="#000000"/>
<text transform="translate(1291.2 1163.6) scale(0.96 1)" font-size="40" text-anchor="start">FD_06</text>
<path d="M1210.9 1219.5H1283.6" stroke="#000000" stroke-width="4.4" stroke-linecap="round" fill="none"/>
<rect x="1237.2" y="1210" width="19" height="19" stroke="#000000" stroke-width="3.8" stroke-linejoin="round" fill="none"/>
<text transform="translate(1291.2 1230.8) scale(0.96 1)" font-size="40" text-anchor="start">FD_07</text>
<path d="M1210.9 1286.7H1283.6" stroke="#000000" stroke-width="4.4" stroke-linecap="round" fill="none"/>
<rect x="1235.3" y="1275.3" width="22.8" height="22.8" fill="#000000"/>
<text transform="translate(1291.2 1298) scale(0.96 1)" font-size="40" text-anchor="start">FD_08</text>
<path d="M1210.9 1353.9H1283.6" stroke="#000000" stroke-width="4.4" stroke-linecap="round" fill="none"/>
<circle cx="1246.7" cy="1353.9" r="9.5" stroke="#000000" stroke-width="3.8" fill="none"/>
<text transform="translate(1291.2 1365.2) scale(0.96 1)" font-size="40" text-anchor="start">FD_09</text>
<path d="M1210.9 1421.1H1283.6" stroke="#000000" stroke-width="4.4" stroke-linecap="round" fill="none"/>
<circle cx="1246.7" cy="1421.1" r="11.4" fill="#000000"/>
<text transform="translate(1291.2 1432.4) scale(0.96 1)" font-size="40" text-anchor="start">FD_10</text>
<path d="M168 1546.8H159.1V2200.4H1153.33V2192.5" stroke="#000" stroke-width="3.3" fill="none" stroke-linejoin="round" stroke-linecap="round"/>
<path d="M159.1 1619.42H168M159.1 1692.04H168M159.1 1764.67H168M159.1 1837.29H168M159.1 1909.91H168M159.1 1982.53H168M159.1 2055.16H168M159.1 2127.78H168M269.57 2200.4V2192.5M380.04 2200.4V2192.5M490.51 2200.4V2192.5M600.98 2200.4V2192.5M711.45 2200.4V2192.5M821.92 2200.4V2192.5M932.39 2200.4V2192.5M1042.86 2200.4V2192.5" stroke="#000" stroke-width="3.1" stroke-linecap="round" fill="none"/>
<text transform="translate(132.6 1562.87) scale(0.94 1)" font-size="41.2" text-anchor="end">400</text>
<text transform="translate(132.6 1644.77) scale(0.94 1)" font-size="41.2" text-anchor="end">350</text>
<text transform="translate(132.6 1726.67) scale(0.94 1)" font-size="41.2" text-anchor="end">300</text>
<text transform="translate(132.6 1808.57) scale(0.94 1)" font-size="41.2" text-anchor="end">250</text>
<text transform="translate(132.6 1890.47) scale(0.94 1)" font-size="41.2" text-anchor="end">200</text>
<text transform="translate(132.6 1972.37) scale(0.94 1)" font-size="41.2" text-anchor="end">150</text>
<text transform="translate(132.6 2054.27) scale(0.94 1)" font-size="41.2" text-anchor="end">100</text>
<text transform="translate(130.8 2136.17) scale(0.94 1)" font-size="41.2" text-anchor="end">50</text>
<text transform="translate(128.9 2218.07) scale(0.94 1)" font-size="41.2" text-anchor="end">0</text>
<text transform="translate(159.6 2244.4) scale(0.94 1)" font-size="41.2" text-anchor="middle">-3</text>
<text transform="translate(268.1 2244.4) scale(0.94 1)" font-size="41.2" text-anchor="middle">6</text>
<text transform="translate(381.5 2244.4) scale(0.94 1)" font-size="41.2" text-anchor="middle">12</text>
<text transform="translate(492.1 2244.4) scale(0.94 1)" font-size="41.2" text-anchor="middle">15</text>
<text transform="translate(601.6 2244.4) scale(0.94 1)" font-size="41.2" text-anchor="middle">19</text>
<text transform="translate(709.6 2244.4) scale(0.94 1)" font-size="41.2" text-anchor="middle">21</text>
<text transform="translate(820.6 2244.4) scale(0.94 1)" font-size="41.2" text-anchor="middle">26</text>
<text transform="translate(930.4 2244.4) scale(0.94 1)" font-size="41.2" text-anchor="middle">28</text>
<text transform="translate(1040.5 2244.4) scale(0.94 1)" font-size="41.2" text-anchor="middle">35</text>
<text transform="translate(1147.6 2244.4) scale(0.94 1)" font-size="41.2" text-anchor="middle">41</text>
<text transform="translate(40.6 2185.3) rotate(-90) scale(0.93 1)" font-size="41.3">Stomatal conductance (mmol m<tspan font-size="23.5" dy="-12.7">-2</tspan><tspan dy="12.7"> s</tspan><tspan font-size="23.5" dy="-12.7">-1</tspan><tspan dy="12.7">)</tspan></text>
<polyline points="159.1,1835 269.57,1855 380.04,1936 490.51,1828.6 600.98,1856.5 711.45,1789 821.92,1790 932.39,1831 1042.86,1903.3 1153.33,1915" stroke="#000000" stroke-width="4" stroke-linejoin="round" fill="none"/>
<rect x="154.7" y="1829.4" width="18.4" height="11.2" rx="3.6" fill="#000000"/>
<rect x="265.17" y="1849.4" width="18.4" height="11.2" rx="3.6" fill="#000000"/>
<rect x="375.64" y="1930.4" width="18.4" height="11.2" rx="3.6" fill="#000000"/>
<rect x="486.11" y="1823" width="18.4" height="11.2" rx="3.6" fill="#000000"/>
<rect x="596.58" y="1850.9" width="18.4" height="11.2" rx="3.6" fill="#000000"/>
<rect x="707.05" y="1783.4" width="18.4" height="11.2" rx="3.6" fill="#000000"/>
<rect x="817.52" y="1784.4" width="18.4" height="11.2" rx="3.6" fill="#000000"/>
<rect x="927.99" y="1825.4" width="18.4" height="11.2" rx="3.6" fill="#000000"/>
<rect x="1038.46" y="1897.7" width="18.4" height="11.2" rx="3.6" fill="#000000"/>
<rect x="1148.93" y="1909.4" width="18.4" height="11.2" rx="3.6" fill="#000000"/>
<polyline points="159.1,1883.5 269.57,1959 380.04,1987 490.51,1929.2 600.98,1932.4 711.45,1856.3 821.92,1880.7 932.39,1869.2 1042.86,1802 1153.33,1907.5" stroke="#000000" stroke-width="4" stroke-linejoin="round" fill="none"/>
<path d="M159.1 1872V1895M147.6 1883.5H170.6" stroke="#000000" stroke-width="3" fill="none"/>
<path d="M269.57 1947.5V1970.5M258.07 1959H281.07" stroke="#000000" stroke-width="3" fill="none"/>
<path d="M380.04 1975.5V1998.5M368.54 1987H391.54" stroke="#000000" stroke-width="3" fill="none"/>
<path d="M490.51 1917.7V1940.7M479.01 1929.2H502.01" stroke="#000000" stroke-width="3" fill="none"/>
<path d="M600.98 1920.9V1943.9M589.48 1932.4H612.48" stroke="#000000" stroke-width="3" fill="none"/>
<path d="M711.45 1844.8V1867.8M699.95 1856.3H722.95" stroke="#000000" stroke-width="3" fill="none"/>
<path d="M821.92 1869.2V1892.2M810.42 1880.7H833.42" stroke="#000000" stroke-width="3" fill="none"/>
<path d="M932.39 1857.7V1880.7M920.89 1869.2H943.89" stroke="#000000" stroke-width="3" fill="none"/>
<path d="M1042.86 1790.5V1813.5M1031.36 1802H1054.36" stroke="#000000" stroke-width="3" fill="none"/>
<path d="M1153.33 1896V1919M1141.83 1907.5H1164.83" stroke="#000000" stroke-width="3" fill="none"/>
<polyline points="159.1,1839.5 269.57,1923 380.04,1881.2 490.51,1855 600.98,1837 711.45,1710.8 821.92,1796 932.39,1788 1042.86,1954.1 1153.33,1979.5" stroke="#000000" stroke-width="4" stroke-linejoin="round" fill="none"/>
<path d="M147.6 1828L170.6 1851M147.6 1851L170.6 1828" stroke="#000000" stroke-width="3.8" fill="none"/>
<path d="M258.07 1911.5L281.07 1934.5M258.07 1934.5L281.07 1911.5" stroke="#000000" stroke-width="3.8" fill="none"/>
<path d="M368.54 1869.7L391.54 1892.7M368.54 1892.7L391.54 1869.7" stroke="#000000" stroke-width="3.8" fill="none"/>
<path d="M479.01 1843.5L502.01 1866.5M479.01 1866.5L502.01 1843.5" stroke="#000000" stroke-width="3.8" fill="none"/>
<path d="M589.48 1825.5L612.48 1848.5M589.48 1848.5L612.48 1825.5" stroke="#000000" stroke-width="3.8" fill="none"/>
<path d="M699.95 1699.3L722.95 1722.3M699.95 1722.3L722.95 1699.3" stroke="#000000" stroke-width="3.8" fill="none"/>
<path d="M810.42 1784.5L833.42 1807.5M810.42 1807.5L833.42 1784.5" stroke="#000000" stroke-width="3.8" fill="none"/>
<path d="M920.89 1776.5L943.89 1799.5M920.89 1799.5L943.89 1776.5" stroke="#000000" stroke-width="3.8" fill="none"/>
<path d="M1031.36 1942.6L1054.36 1965.6M1031.36 1965.6L1054.36 1942.6" stroke="#000000" stroke-width="3.8" fill="none"/>
<path d="M1141.83 1968L1164.83 1991M1141.83 1991L1164.83 1968" stroke="#000000" stroke-width="3.8" fill="none"/>
<polyline points="159.1,1695 269.57,1667.5 380.04,1666.2 490.51,1683.4 600.98,1803.5 711.45,1761.5 821.92,1725 932.39,1792 1042.86,1864 1153.33,1962.6" stroke="#000000" stroke-width="4" stroke-linejoin="round" fill="none"/>
<path d="M147.6 1683.5L170.6 1706.5M147.6 1706.5L170.6 1683.5M159.1 1683.5V1706.5" stroke="#000000" stroke-width="3.8" fill="none"/>
<path d="M258.07 1656L281.07 1679M258.07 1679L281.07 1656M269.57 1656V1679" stroke="#000000" stroke-width="3.8" fill="none"/>
<path d="M368.54 1654.7L391.54 1677.7M368.54 1677.7L391.54 1654.7M380.04 1654.7V1677.7" stroke="#000000" stroke-width="3.8" fill="none"/>
<path d="M479.01 1671.9L502.01 1694.9M479.01 1694.9L502.01 1671.9M490.51 1671.9V1694.9" stroke="#000000" stroke-width="3.8" fill="none"/>
<path d="M589.48 1792L612.48 1815M589.48 1815L612.48 1792M600.98 1792V1815" stroke="#000000" stroke-width="3.8" fill="none"/>
<path d="M699.95 1750L722.95 1773M699.95 1773L722.95 1750M711.45 1750V1773" stroke="#000000" stroke-width="3.8" fill="none"/>
<path d="M810.42 1713.5L833.42 1736.5M810.42 1736.5L833.42 1713.5M821.92 1713.5V1736.5" stroke="#000000" stroke-width="3.8" fill="none"/>
<path d="M920.89 1780.5L943.89 1803.5M920.89 1803.5L943.89 1780.5M932.39 1780.5V1803.5" stroke="#000000" stroke-width="3.8" fill="none"/>
<path d="M1031.36 1852.5L1054.36 1875.5M1031.36 1875.5L1054.36 1852.5M1042.86 1852.5V1875.5" stroke="#000000" stroke-width="3.8" fill="none"/>
<path d="M1141.83 1951.1L1164.83 1974.1M1141.83 1974.1L1164.83 1951.1M1153.33 1951.1V1974.1" stroke="#000000" stroke-width="3.8" fill="none"/>
<polyline points="159.1,1761 269.57,1767 380.04,1736.5 490.51,1755.5 600.98,1743.8 711.45,1738 821.92,1685.4 932.39,1756 1042.86,2025.3 1153.33,2014.7" stroke="#000000" stroke-width="4" stroke-linejoin="round" fill="none"/>
<path d="M159.1 1749.5L170.6 1772.5H147.6Z" stroke="#000000" stroke-width="3.8" stroke-linejoin="round" fill="none"/>
<path d="M269.57 1755.5L281.07 1778.5H258.07Z" stroke="#000000" stroke-width="3.8" stroke-linejoin="round" fill="none"/>
<path d="M380.04 1725L391.54 1748H368.54Z" stroke="#000000" stroke-width="3.8" stroke-linejoin="round" fill="none"/>
<path d="M490.51 1744L502.01 1767H479.01Z" stroke="#000000" stroke-width="3.8" stroke-linejoin="round" fill="none"/>
<path d="M600.98 1732.3L612.48 1755.3H589.48Z" stroke="#000000" stroke-width="3.8" stroke-linejoin="round" fill="none"/>
<path d="M711.45 1726.5L722.95 1749.5H699.95Z" stroke="#000000" stroke-width="3.8" stroke-linejoin="round" fill="none"/>
<path d="M821.92 1673.9L833.42 1696.9H810.42Z" stroke="#000000" stroke-width="3.8" stroke-linejoin="round" fill="none"/>
<path d="M932.39 1744.5L943.89 1767.5H920.89Z" stroke="#000000" stroke-width="3.8" stroke-linejoin="round" fill="none"/>
<path d="M1042.86 2013.8L1054.36 2036.8H1031.36Z" stroke="#000000" stroke-width="3.8" stroke-linejoin="round" fill="none"/>
<path d="M1153.33 2003.2L1164.83 2026.2H1141.83Z" stroke="#000000" stroke-width="3.8" stroke-linejoin="round" fill="none"/>
<polyline points="159.1,1834 269.57,2002 380.04,1966.8 490.51,1823.3 600.98,1784 711.45,1795 821.92,1725 932.39,1824.4 1042.86,1864 1153.33,1916" stroke="#000000" stroke-width="4" stroke-linejoin="round" fill="none"/>
<path d="M159.1 1822.5L170.6 1845.5H147.6Z" fill="#000000"/>
<path d="M269.57 1990.5L281.07 2013.5H258.07Z" fill="#000000"/>
<path d="M380.04 1955.3L391.54 1978.3H368.54Z" fill="#000000"/>
<path d="M490.51 1811.8L502.01 1834.8H479.01Z" fill="#000000"/>
<path d="M600.98 1772.5L612.48 1795.5H589.48Z" fill="#000000"/>
<path d="M711.45 1783.5L722.95 1806.5H699.95Z" fill="#000000"/>
<path d="M821.92 1713.5L833.42 1736.5H810.42Z" fill="#000000"/>
<path d="M932.39 1812.9L943.89 1835.9H920.89Z" fill="#000000"/>
<path d="M1042.86 1852.5L1054.36 1875.5H1031.36Z" fill="#000000"/>
<path d="M1153.33 1904.5L1164.83 1927.5H1141.83Z" fill="#000000"/>
<polyline points="159.1,1764.7 269.57,1754.7 380.04,1762.6 490.51,1738.7 600.98,1770.7 711.45,1728 821.92,1642.4 932.39,1757 1042.86,1775.1 1153.33,1927.2" stroke="#000000" stroke-width="4" stroke-linejoin="round" fill="none"/>
<rect x="147.6" y="1753.2" width="23" height="23" stroke="#000000" stroke-width="3.8" stroke-linejoin="round" fill="none"/>
<rect x="258.07" y="1743.2" width="23" height="23" stroke="#000000" stroke-width="3.8" stroke-linejoin="round" fill="none"/>
<rect x="368.54" y="1751.1" width="23" height="23" stroke="#000000" stroke-width="3.8" stroke-linejoin="round" fill="none"/>
<rect x="479.01" y="1727.2" width="23" height="23" stroke="#000000" stroke-width="3.8" stroke-linejoin="round" fill="none"/>
<rect x="589.48" y="1759.2" width="23" height="23" stroke="#000000" stroke-width="3.8" stroke-linejoin="round" fill="none"/>
<rect x="699.95" y="1716.5" width="23" height="23" stroke="#000000" stroke-width="3.8" stroke-linejoin="round" fill="none"/>
<rect x="810.42" y="1630.9" width="23" height="23" stroke="#000000" stroke-width="3.8" stroke-linejoin="round" fill="none"/>
<rect x="920.89" y="1745.5" width="23" height="23" stroke="#000000" stroke-width="3.8" stroke-linejoin="round" fill="none"/>
<rect x="1031.36" y="1763.6" width="23" height="23" stroke="#000000" stroke-width="3.8" stroke-linejoin="round" fill="none"/>
<rect x="1141.83" y="1915.7" width="23" height="23" stroke="#000000" stroke-width="3.8" stroke-linejoin="round" fill="none"/>
<polyline points="159.1,1753.3 269.57,1800.5 380.04,1827.2 490.51,1785.3 600.98,1775.6 711.45,1725.3 821.92,1657.4 932.39,1759.2 1042.86,1800.5 1153.33,2010" stroke="#000000" stroke-width="4" stroke-linejoin="round" fill="none"/>
<rect x="147.6" y="1741.8" width="23" height="23" fill="#000000"/>
<rect x="258.07" y="1789" width="23" height="23" fill="#000000"/>
<rect x="368.54" y="1815.7" width="23" height="23" fill="#000000"/>
<rect x="479.01" y="1773.8" width="23" height="23" fill="#000000"/>
<rect x="589.48" y="1764.1" width="23" height="23" fill="#000000"/>
<rect x="699.95" y="1713.8" width="23" height="23" fill="#000000"/>
<rect x="810.42" y="1645.9" width="23" height="23" fill="#000000"/>
<rect x="920.89" y="1747.7" width="23" height="23" fill="#000000"/>
<rect x="1031.36" y="1789" width="23" height="23" fill="#000000"/>
<rect x="1141.83" y="1998.5" width="23" height="23" fill="#000000"/>
<polyline points="159.1,1695 269.57,2045 380.04,1988.5 490.51,1911.7 600.98,1915.4 711.45,1801.6 821.92,1785.2 932.39,1753.7 1042.86,1927.6 1153.33,1921.3" stroke="#000000" stroke-width="4" stroke-linejoin="round" fill="none"/>
<circle cx="159.1" cy="1695" r="11.5" stroke="#000000" stroke-width="3.8" fill="none"/>
<circle cx="269.57" cy="2045" r="11.5" stroke="#000000" stroke-width="3.8" fill="none"/>
<circle cx="380.04" cy="1988.5" r="11.5" stroke="#000000" stroke-width="3.8" fill="none"/>
<circle cx="490.51" cy="1911.7" r="11.5" stroke="#000000" stroke-width="3.8" fill="none"/>
<circle cx="600.98" cy="1915.4" r="11.5" stroke="#000000" stroke-width="3.8" fill="none"/>
<circle cx="711.45" cy="1801.6" r="11.5" stroke="#000000" stroke-width="3.8" fill="none"/>
<circle cx="821.92" cy="1785.2" r="11.5" stroke="#000000" stroke-width="3.8" fill="none"/>
<circle cx="932.39" cy="1753.7" r="11.5" stroke="#000000" stroke-width="3.8" fill="none"/>
<circle cx="1042.86" cy="1927.6" r="11.5" stroke="#000000" stroke-width="3.8" fill="none"/>
<circle cx="1153.33" cy="1921.3" r="11.5" stroke="#000000" stroke-width="3.8" fill="none"/>
<polyline points="159.1,1821.3 269.57,1667.7 380.04,1745 490.51,1766 600.98,1788.5 711.45,1728 821.92,1628.8 932.39,1757.8 1042.86,2011.3 1153.33,2010.3" stroke="#000000" stroke-width="4" stroke-linejoin="round" fill="none"/>
<circle cx="159.1" cy="1821.3" r="13.4" fill="#000000"/>
<circle cx="269.57" cy="1667.7" r="13.4" fill="#000000"/>
<circle cx="380.04" cy="1745" r="13.4" fill="#000000"/>
<circle cx="490.51" cy="1766" r="13.4" fill="#000000"/>
<circle cx="600.98" cy="1788.5" r="13.4" fill="#000000"/>
<circle cx="711.45" cy="1728" r="13.4" fill="#000000"/>
<circle cx="821.92" cy="1628.8" r="13.4" fill="#000000"/>
<circle cx="932.39" cy="1757.8" r="13.4" fill="#000000"/>
<circle cx="1042.86" cy="2011.3" r="13.4" fill="#000000"/>
<circle cx="1153.33" cy="2010.3" r="13.4" fill="#000000"/>
<path d="M1210.9 1577H1283.6" stroke="#000000" stroke-width="4.4" stroke-linecap="round" fill="none"/>
<rect x="1243.3" y="1571.7" width="16.7" height="10.6" rx="3.4" fill="#000000"/>
<text transform="translate(1291.2 1588.3) scale(0.96 1)" font-size="40" text-anchor="start">CT_01</text>
<path d="M1210.9 1644.2H1283.6" stroke="#000000" stroke-width="4.4" stroke-linecap="round" fill="none"/>
<path d="M1246.7 1634.7V1653.7M1237.2 1644.2H1256.2" stroke="#000000" stroke-width="3" fill="none"/>
<text transform="translate(1291.2 1655.5) scale(0.96 1)" font-size="40" text-anchor="start">CT_02</text>
<path d="M1210.9 1711.4H1283.6" stroke="#000000" stroke-width="4.4" stroke-linecap="round" fill="none"/>
<path d="M1237.2 1701.9L1256.2 1720.9M1237.2 1720.9L1256.2 1701.9" stroke="#000000" stroke-width="3.8" fill="none"/>
<text transform="translate(1291.2 1722.7) scale(0.96 1)" font-size="40" text-anchor="start">CT_03</text>
<path d="M1210.9 1778.6H1283.6" stroke="#000000" stroke-width="4.4" stroke-linecap="round" fill="none"/>
<path d="M1237.2 1769.1L1256.2 1788.1M1237.2 1788.1L1256.2 1769.1M1246.7 1769.1V1788.1" stroke="#000000" stroke-width="3.8" fill="none"/>
<text transform="translate(1291.2 1789.9) scale(0.96 1)" font-size="40" text-anchor="start">CT_04</text>
<path d="M1210.9 1845.8H1283.6" stroke="#000000" stroke-width="4.4" stroke-linecap="round" fill="none"/>
<path d="M1246.7 1836.3L1256.2 1855.3H1237.2Z" stroke="#000000" stroke-width="3.8" stroke-linejoin="round" fill="none"/>
<text transform="translate(1291.2 1857.1) scale(0.96 1)" font-size="40" text-anchor="start">CT_05</text>
<path d="M1210.9 1913H1283.6" stroke="#000000" stroke-width="4.4" stroke-linecap="round" fill="none"/>
<path d="M1246.7 1903.5L1256.2 1922.5H1237.2Z" fill="#000000"/>
<text transform="translate(1291.2 1924.3) scale(0.96 1)" font-size="40" text-anchor="start">CT_06</text>
<path d="M1210.9 1980.2H1283.6" stroke="#000000" stroke-width="4.4" stroke-linecap="round" fill="none"/>
<rect x="1237.2" y="1970.7" width="19" height="19" stroke="#000000" stroke-width="3.8" stroke-linejoin="round" fill="none"/>
<text transform="translate(1291.2 1991.5) scale(0.96 1)" font-size="40" text-anchor="start">CT_07</text>
<path d="M1210.9 2047.4H1283.6" stroke="#000000" stroke-width="4.4" stroke-linecap="round" fill="none"/>
<rect x="1235.3" y="2036" width="22.8" height="22.8" fill="#000000"/>
<text transform="translate(1291.2 2058.7) scale(0.96 1)" font-size="40" text-anchor="start">CT_08</text>
<path d="M1210.9 2114.6H1283.6" stroke="#000000" stroke-width="4.4" stroke-linecap="round" fill="none"/>
<circle cx="1246.7" cy="2114.6" r="9.5" stroke="#000000" stroke-width="3.8" fill="none"/>
<text transform="translate(1291.2 2125.9) scale(0.96 1)" font-size="40" text-anchor="start">CT_09</text>
<path d="M1210.9 2181.8H1283.6" stroke="#000000" stroke-width="4.4" stroke-linecap="round" fill="none"/>
<circle cx="1246.7" cy="2181.8" r="11.4" fill="#000000"/>
<text transform="translate(1291.2 2193.1) scale(0.96 1)" font-size="40" text-anchor="start">CT_10</text>
<text transform="translate(667.2 2291.5) scale(0.93 1)" font-size="41.3" text-anchor="middle">Time (days post-inoculation)</text>
</svg>
</body></html>
